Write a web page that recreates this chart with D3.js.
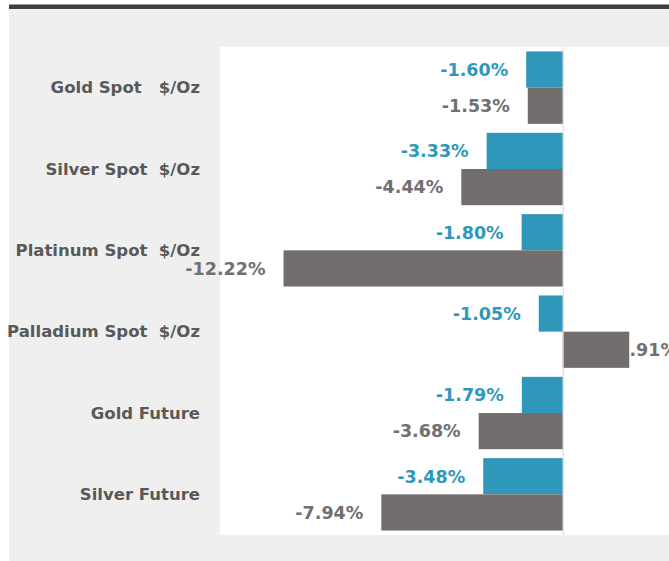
<!DOCTYPE html>
<html>
<head>
<meta charset="utf-8">
<script src="https://cdn.jsdelivr.net/npm/d3@7"></script>
<style>
  body { margin: 0; background: #fff; }
  #chart text { font-family: 'DejaVu Sans', sans-serif; white-space: pre; }
</style>
</head>
<body>
<div id="chart"></div>
<script>
// Data
const categories = ['Gold Spot   $/Oz', 'Silver Spot  $/Oz', 'Platinum Spot  $/Oz', 'Palladium Spot  $/Oz', 'Gold Future', 'Silver Future']
const seriesNames = ['Series 1', 'Series 2']
const series1 = [-1.60, -3.33, -1.80, -1.05, -1.79, -3.48]
const series2 = [-1.53, -4.44, -12.22, 2.91, -3.68, -7.94]
const xDomain = [-15, 5]

function draw() {
  const dimensions = {
    width: 669,
    height: 561,
    plot: { left: 220, right: 677, top: 47, bottom: 535 }
  }

  const colors = { 'Series 1': '#2f98ba', 'Series 2': '#736e6e' }
  const labelColors = { 'Series 1': '#2f98ba', 'Series 2': '#707070' }

  const rows = categories.map((c, i) => ({
    category: c,
    values: [
      { key: seriesNames[0], value: series1[i] },
      { key: seriesNames[1], value: series2[i] }
    ]
  }))

  const svg = d3.select('#chart')
    .append('svg')
    .attr('width', dimensions.width)
    .attr('height', dimensions.height)

  // slide background
  svg.append('rect')
    .attr('x', 9).attr('y', 9)
    .attr('width', dimensions.width - 9).attr('height', dimensions.height - 9)
    .attr('fill', '#efefef')
  svg.append('rect')
    .attr('x', 9).attr('y', 4)
    .attr('width', dimensions.width - 9).attr('height', 1.5)
    .attr('fill', '#9a9a9a')
  svg.append('rect')
    .attr('x', 9).attr('y', 5)
    .attr('width', dimensions.width - 9).attr('height', 4)
    .attr('fill', '#3f3f3f')

  // plot area
  const p = dimensions.plot
  svg.append('rect')
    .attr('x', p.left).attr('y', p.top)
    .attr('width', p.right - p.left).attr('height', p.bottom - p.top)
    .attr('fill', '#fff')

  // Scales
  const xScale = d3.scaleLinear()
    .domain(xDomain)
    .range([p.left, p.right])

  const yScale = d3.scaleBand()
    .domain(categories)
    .range([p.top, p.bottom])
    .paddingInner(0.11)
    .paddingOuter(0.055)

  const innerScale = d3.scaleBand()
    .domain(seriesNames)
    .range([0, yScale.bandwidth()])

  const groups = svg.append('g')
    .selectAll('g')
    .data(rows)
    .join('g')
    .attr('transform', d => `translate(0, ${yScale(d.category)})`)

  // Labels (drawn under the bars, the bar hides the start of the positive one)
  groups.selectAll('text.value')
    .data(d => d.values)
    .join('text')
    .classed('value', true)
    .attr('x', d => d.value < 0 ? xScale(d.value) - 18 : xScale(d.value) - 12)
    .attr('y', d => innerScale(d.key) + innerScale.bandwidth() / 2)
    .attr('dy', '0.36em')
    .attr('text-anchor', d => d.value < 0 ? 'end' : 'start')
    .attr('fill', d => labelColors[d.key])
    .style('font-size', '17.5px')
    .style('font-weight', 'bold')
    .text(d => d.value.toFixed(2) + '%')

  // Bars
  groups.selectAll('rect')
    .data(d => d.values)
    .join('rect')
    .attr('x', d => xScale(Math.min(0, d.value)))
    .attr('y', d => innerScale(d.key))
    .attr('width', d => Math.abs(xScale(d.value) - xScale(0)))
    .attr('height', innerScale.bandwidth())
    .attr('fill', d => colors[d.key])

  // zero line
  svg.append('line')
    .attr('x1', xScale(0) + 0.5).attr('x2', xScale(0) + 0.5)
    .attr('y1', p.top).attr('y2', p.bottom)
    .attr('stroke', '#d9d9d9')

  // Category labels
  svg.append('g')
    .selectAll('text')
    .data(categories)
    .join('text')
    .attr('x', 200)
    .attr('y', d => yScale(d) + yScale.bandwidth() / 2)
    .attr('dy', '0.35em')
    .attr('text-anchor', 'end')
    .attr('fill', '#595959')
    .style('font-size', '16.5px')
    .style('font-weight', 'bold')
    .text(d => d)
}

draw()
</script>
</body>
</html>
